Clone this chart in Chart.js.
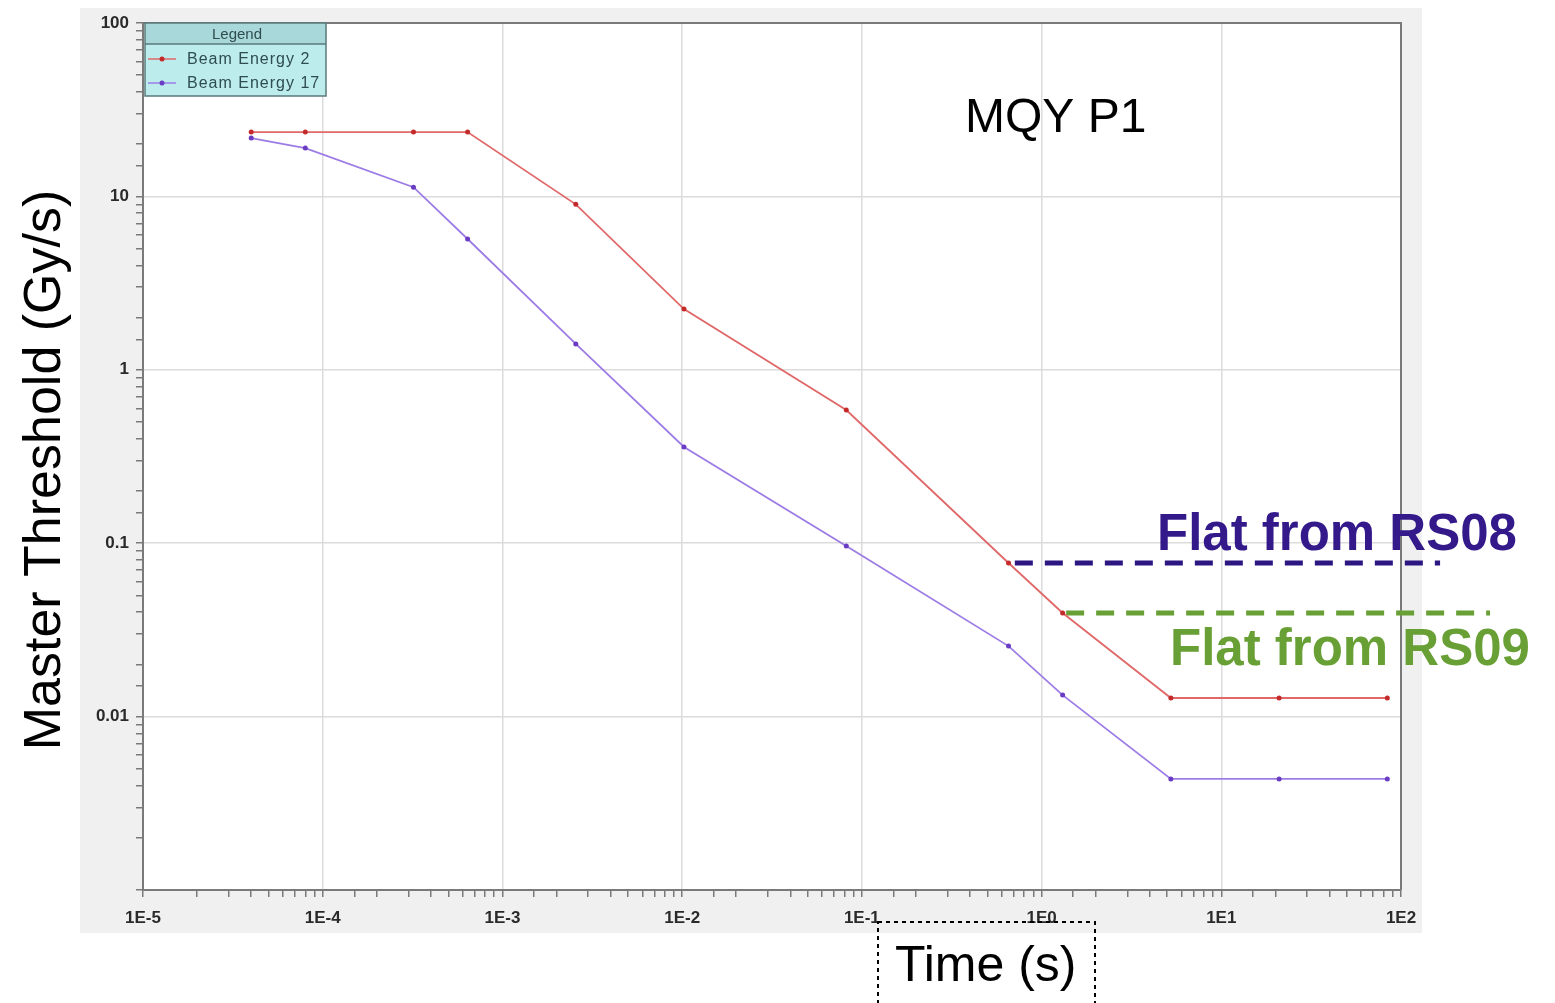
<!DOCTYPE html>
<html>
<head>
<meta charset="utf-8">
<script src="https://cdn.jsdelivr.net/npm/chart.js@4.4.1/dist/chart.umd.min.js"></script>
<style>
html, body { margin: 0; padding: 0; background: #fff; }
canvas { display: block; }
</style>
</head>
<body>
<canvas id="ThresholdChart" width="1555" height="1003"></canvas>
<script>
// running sum integration times (s)
var times = [4.0e-5, 8.0e-5, 3.2e-4, 6.4e-4, 2.56e-3, 1.024e-2, 8.192e-2, 0.655, 1.31, 5.24, 20.97, 83.89];
var beamEnergy2 = [23.5, 23.5, 23.5, 23.5, 9.0, 2.24, 0.586, 0.0769, 0.0396, 0.0128, 0.0128, 0.0128];
var beamEnergy17 = [21.7, 19.0, 11.3, 5.68, 1.41, 0.359, 0.0964, 0.0255, 0.0133, 0.00437, 0.00437, 0.00437];

// flat levels
var rs08Times = [0.71, 165];
var rs08Level = 0.0769;
var rs09Times = [1.37, 313];
var rs09Level = 0.0396;

var xTickValues = [1e-5, 1e-4, 1e-3, 1e-2, 1e-1, 1, 10, 100];
var xTickLabels = ['1E-5', '1E-4', '1E-3', '1E-2', '1E-1', '1E0', '1E1', '1E2'];
var yTickValues = [0.01, 0.1, 1, 10, 100];
var yTickLabels = ['0.01', '0.1', '1', '10', '100'];

function toPoints(xs, ys) {
	return xs.map(function(x, i) { return { x: x, y: ys[i] }; });
}
function flatLine(xs, level) {
	return xs.map(function(x) { return { x: x, y: level }; });
}
function isMajor(v) {
	if (!v) return false;
	var e = Math.log10(v);
	return Math.abs(e - Math.round(e)) < 1e-6;
}
function labelFor(values, labels, v) {
	for (var i = 0; i < values.length; i++) {
		if (Math.abs(values[i] / v - 1) < 1e-6) return labels[i];
	}
	return '';
}

var tickFont = { family: 'Liberation Sans', size: 17, weight: 'bold' };

var decorations = {
	id: 'decorations',
	beforeDraw: function(chart) {
		var c = chart.ctx, a = chart.chartArea;
		c.save();
		c.fillStyle = '#f0f0f0';
		c.fillRect(80, 8, 1342, 925);
		c.fillStyle = '#ffffff';
		c.fillRect(a.left, a.top, a.right - a.left, a.bottom - a.top);
		c.restore();
	},
	beforeDatasetsDraw: function(chart) {
		var c = chart.ctx, a = chart.chartArea;
		c.save();
		c.strokeStyle = '#7a7a7a';
		c.lineWidth = 2;
		c.beginPath();
		c.moveTo(a.left, a.top);
		c.lineTo(a.right, a.top);
		c.lineTo(a.right, a.bottom);
		c.stroke();
		c.restore();
	},
	afterDraw: function(chart) {
		var c = chart.ctx;
		c.save();

		// legend box
		c.fillStyle = '#bdeced';
		c.fillRect(145, 23, 181, 73);
		c.fillStyle = '#a9d8da';
		c.fillRect(145, 23, 181, 21);
		c.strokeStyle = '#5a7a7a';
		c.lineWidth = 1.5;
		c.strokeRect(145, 23, 181, 73);
		c.beginPath();
		c.moveTo(145, 44);
		c.lineTo(326, 44);
		c.stroke();
		c.fillStyle = '#2f4d4f';
		c.font = '15px "Liberation Sans"';
		c.textAlign = 'center';
		c.textBaseline = 'middle';
		c.fillText('Legend', 237, 35);
		c.textAlign = 'left';
		c.font = '16px "Liberation Sans"';
		c.letterSpacing = '1px';
		var rows = [59, 83];
		[0, 1].forEach(function(i) {
			var ds = chart.data.datasets[i];
			c.strokeStyle = ds.borderColor;
			c.lineWidth = 1.5;
			c.beginPath();
			c.moveTo(148, rows[i]);
			c.lineTo(176, rows[i]);
			c.stroke();
			c.fillStyle = ds.pointBackgroundColor;
			c.beginPath();
			c.arc(162, rows[i], 2.5, 0, Math.PI * 2);
			c.fill();
			c.fillStyle = '#2f4d4f';
			c.fillText(ds.label, 187, rows[i] + 1);
		});
		c.letterSpacing = '0px';

		// annotations
		c.textBaseline = 'alphabetic';
		c.fillStyle = '#000';
		c.font = '48px "Liberation Sans"';
		c.fillText('MQY P1', 965, 132);

		c.font = 'bold 51px "Liberation Sans"';
		c.fillStyle = '#33198a';
		c.fillText('Flat from RS08', 1157, 550);
		c.fillStyle = '#68a035';
		c.fillText('Flat from RS09', 1170, 665);

		// axis titles
		c.fillStyle = '#000';
		c.font = '50px "Liberation Sans"';
		c.fillText('Time (s)', 895, 981);
		c.setLineDash([4, 4]);
		c.strokeStyle = '#000';
		c.lineWidth = 2;
		c.strokeRect(878, 922, 217, 100);
		c.setLineDash([]);

		c.translate(46, 470);
		c.rotate(-Math.PI / 2);
		c.textAlign = 'center';
		c.textBaseline = 'middle';
		c.font = '52px "Liberation Sans"';
		c.fillText('Master Threshold (Gy/s)', 0, 0);
		c.restore();
	}
};

var ctx = document.getElementById('ThresholdChart').getContext('2d');
var config = {
	type: 'line',
	data: {
		datasets: [{
			label: 'Beam Energy 2',
			data: toPoints(times, beamEnergy2),
			borderColor: '#e06868',
			backgroundColor: '#c42a2a',
			pointBackgroundColor: '#c42a2a',
			pointBorderColor: '#c42a2a',
			borderWidth: 1.8,
			pointRadius: 2.5,
			pointBorderWidth: 0
		}, {
			label: 'Beam Energy 17',
			data: toPoints(times, beamEnergy17),
			borderColor: '#9d7ce6',
			backgroundColor: '#6a3cc4',
			pointBackgroundColor: '#6a3cc4',
			pointBorderColor: '#6a3cc4',
			borderWidth: 1.8,
			pointRadius: 2.5,
			pointBorderWidth: 0
		}, {
			label: 'RS08',
			data: flatLine(rs08Times, rs08Level),
			borderColor: '#2c1782',
			borderWidth: 5,
			borderDash: [18, 12],
			pointRadius: 0,
			clip: false
		}, {
			label: 'RS09',
			data: flatLine(rs09Times, rs09Level),
			borderColor: '#68a035',
			borderWidth: 5,
			borderDash: [18, 12],
			pointRadius: 0,
			clip: false
		}]
	},
	options: {
		responsive: false,
		animation: false,
		events: [],
		layout: { padding: { top: 23, right: 154, left: 0, bottom: 0 } },
		plugins: {
			legend: { display: false },
			tooltip: { enabled: false }
		},
		scales: {
			x: {
				type: 'logarithmic',
				min: 1e-5,
				max: 100,
				afterFit: function(scale) { scale.height = 113; },
				grid: {
					color: function(c) { return c.tick && isMajor(c.tick.value) ? '#dcdcdc' : 'rgba(0,0,0,0)'; },
					lineWidth: 1.5,
					tickColor: '#7a7a7a',
					tickLength: 7,
					tickWidth: 1.5
				},
				border: { color: '#7a7a7a', width: 2 },
				ticks: {
					autoSkip: false,
					maxRotation: 0,
					padding: 11,
					color: '#2a2a2a',
					font: tickFont,
					callback: function(v) { return labelFor(xTickValues, xTickLabels, v); }
				}
			},
			y: {
				type: 'logarithmic',
				min: 0.001,
				max: 100,
				afterFit: function(scale) { scale.width = 143; },
				grid: {
					color: function(c) { return c.tick && isMajor(c.tick.value) ? '#dcdcdc' : 'rgba(0,0,0,0)'; },
					lineWidth: 1.5,
					tickColor: '#7a7a7a',
					tickLength: 7,
					tickWidth: 1.5
				},
				border: { color: '#7a7a7a', width: 2 },
				ticks: {
					autoSkip: false,
					padding: 7,
					color: '#2a2a2a',
					font: tickFont,
					callback: function(v) { return labelFor(yTickValues, yTickLabels, v); }
				}
			}
		}
	},
	plugins: [decorations]
};

var chart = new Chart(ctx, config);
</script>
</body>
</html>
